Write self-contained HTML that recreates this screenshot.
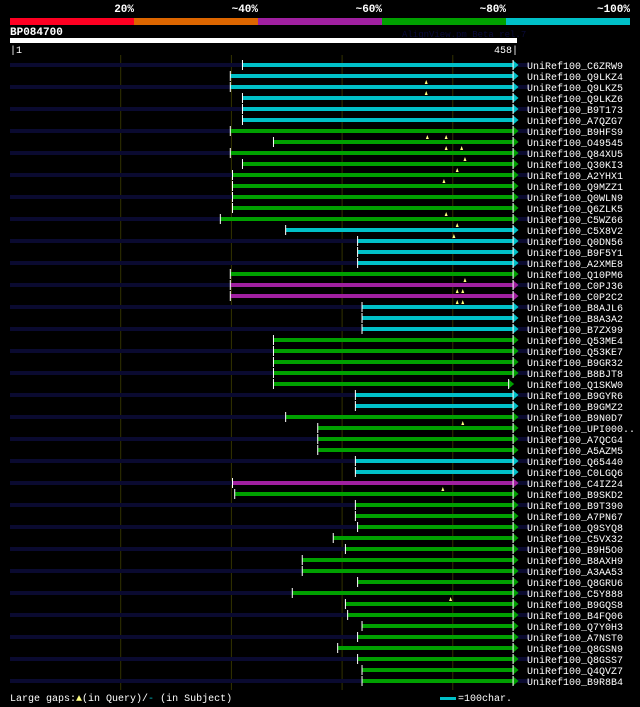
<!DOCTYPE html>
<html><head><meta charset="utf-8"><style>
body{margin:0;background:#000;width:640px;height:707px;overflow:hidden}
svg{display:block}
text{font-family:"Liberation Mono","DejaVu Sans Mono",monospace}
</style></head><body>
<svg id="chart" width="640" height="707" viewBox="0 0 640 707">
<rect x="0" y="0" width="640" height="707" fill="#000"/>
<g>
<rect x="10" y="18" width="124" height="7" fill="#ff0022"/>
<rect x="134" y="18" width="124" height="7" fill="#dd6600"/>
<rect x="258" y="18" width="124" height="7" fill="#a020a0"/>
<rect x="382" y="18" width="124" height="7" fill="#00a000"/>
<rect x="506" y="18" width="124" height="7" fill="#00c0c8"/>
<text x="134" y="12" fill="#fff" font-size="11" font-weight="bold" text-anchor="end">20%</text>
<text x="258" y="12" fill="#fff" font-size="11" font-weight="bold" text-anchor="end">~40%</text>
<text x="382" y="12" fill="#fff" font-size="11" font-weight="bold" text-anchor="end">~60%</text>
<text x="506" y="12" fill="#fff" font-size="11" font-weight="bold" text-anchor="end">~80%</text>
<text x="630" y="12" fill="#fff" font-size="11" font-weight="bold" text-anchor="end">~100%</text>
</g>
<text x="10" y="35" fill="#fff" font-size="11" font-weight="bold">BP084700</text>
<text x="402" y="37" fill="#0a0a3a" font-size="9">AlignView.pm Beta rel.7</text>
<rect x="10" y="38" width="507" height="5" fill="#fff"/>
<text x="10" y="53" fill="#fff" font-size="10">|1</text>
<text x="518" y="53" fill="#fff" font-size="10" text-anchor="end">458|</text>
<g id="grid"></g>
<g id="rows"></g>
<text x="10" y="701" fill="#fff" font-size="10">Large gaps:<tspan fill="#ffff80">▲</tspan>(in Query)/<tspan fill="#00c0c8">-</tspan> (in Subject)</text>
<rect x="440" y="697" width="16" height="3" fill="#00c0c8"/>
<text x="458" y="701" fill="#fff" font-size="10">=100char.</text>
</svg>
<script>
const queryLength = 458;
const gridTicks = [100, 200, 300, 400];
const labels = ["C6ZRW9","Q9LKZ4","Q9LKZ5","Q9LKZ6","B9T173","A7QZG7","B9HFS9","O49545","Q84XU5","Q30KI3","A2YHX1","Q9MZZ1","Q0WLN9","Q6ZLK5","C5WZ66","C5X8V2","Q0DN56","B9F5Y1","A2XME8","Q10PM6","C0PJ36","C0P2C2","B8AJL6","B8A3A2","B7ZX99","Q53ME4","Q53KE7","B9GR32","B8BJT8","Q1SKW0","B9GYR6","B9GMZ2","B9N0D7","UPI000..","A7QCG4","A5AZM5","Q65440","C0LGQ6","C4IZ24","B9SKD2","B9T390","A7PN67","Q9SYQ8","C5VX32","B9H5O0","B8AXH9","A3AA53","Q8GRU6","C5Y888","B9GQS8","B4FQ06","Q7Y0H3","A7NST0","Q8GSN9","Q8GSS7","Q4QVZ7","B9R8B4"];
const starts = [210,199,199,210,210,210,199,238,199,210,201,201,201,201,190,249,314,314,314,199,199,199,318,318,318,238,238,238,238,238,312,312,249,278,278,278,312,312,201,203,312,312,314,292,303,264,264,314,255,303,305,318,314,296,314,318,318];
const ends = [454,454,454,454,454,454,454,454,454,454,454,454,454,454,454,454,454,454,454,454,454,454,454,454,454,454,454,454,454,450,454,454,454,454,454,454,454,454,454,454,454,454,454,454,454,454,454,454,454,454,454,454,454,454,454,454,454];
const identity = [100,100,100,100,100,100,80,80,80,80,80,80,80,80,80,100,100,100,100,80,60,60,100,100,100,80,80,80,80,80,100,100,80,80,80,80,100,100,60,80,80,80,80,80,80,80,80,80,80,80,80,80,80,80,80,80,80];
const gapRows = [1,2,6,6,7,7,8,9,10,13,14,15,19,20,20,21,21,32,38,48];
const gapPos = [376,376,377,394,394,408,411,404,392,394,404,401,411,404,409,404,409,409,391,398];
const X = r => 10 + r * (507 / queryLength);
const rowY = i => 65 + i * 11;
const colorOf = p => p >= 90 ? "#00c0c8" : p >= 70 ? "#00a000" : p >= 50 ? "#a020a0" : p >= 30 ? "#dd6600" : "#ff0022";
const NS = "http://www.w3.org/2000/svg";
function mk(tag, attrs, parent) { const e = document.createElementNS(NS, tag); for (const k in attrs) e.setAttribute(k, attrs[k]); parent.appendChild(e); return e; }
const grid = document.getElementById("grid");
gridTicks.forEach(t => {
  const l = mk("line", {x1: X(t), x2: X(t), y1: 55, y2: 690, stroke: "#333300", "stroke-width": 1}, grid);
  
  
});
const rows = document.getElementById("rows");
labels.forEach((lab, i) => {
  const y = rowY(i);
  const g = mk("g", {}, rows);
  
  
  if (i % 2 === 0) {
    const bg = mk("rect", {x: 10, y: y - 2, width: 520, height: 4, fill: "#0a0a30"}, g);
    
    
  }
  const c = colorOf(identity[i]);
  const x0 = X(starts[i]), x1 = X(ends[i]);
  const bar = mk("rect", {x: x0, y: y - 2, width: x1 - x0, height: 4, fill: c}, g);
  
  
  const tick = mk("rect", {x: x0 - 0.5, y: y - 5, width: 1, height: 10, fill: "#fff"}, g);
  
  
  const ar = mk("polygon", {points: `${x1},${y-5} ${x1+6},${y} ${x1},${y+5}`, fill: c}, g);
  
  
  const ed = mk("rect", {x: x1, y: y - 5, width: 1, height: 10, fill: "#fff"}, g);
  
  
  const t = mk("text", {x: 527, y: y + 4, fill: "#fff", "font-size": 10}, g);
  t.textContent = "UniRef100_" + lab;
  
  
});
gapRows.forEach((r, k) => {
  const x = X(gapPos[k]), y = rowY(r) + 4;
  const m = mk("polygon", {points: `${x-1.5},${y+4} ${x},${y} ${x+1.5},${y+4}`, fill: "#ffff80"}, rows);
  
  
});
</script>
</body></html>
